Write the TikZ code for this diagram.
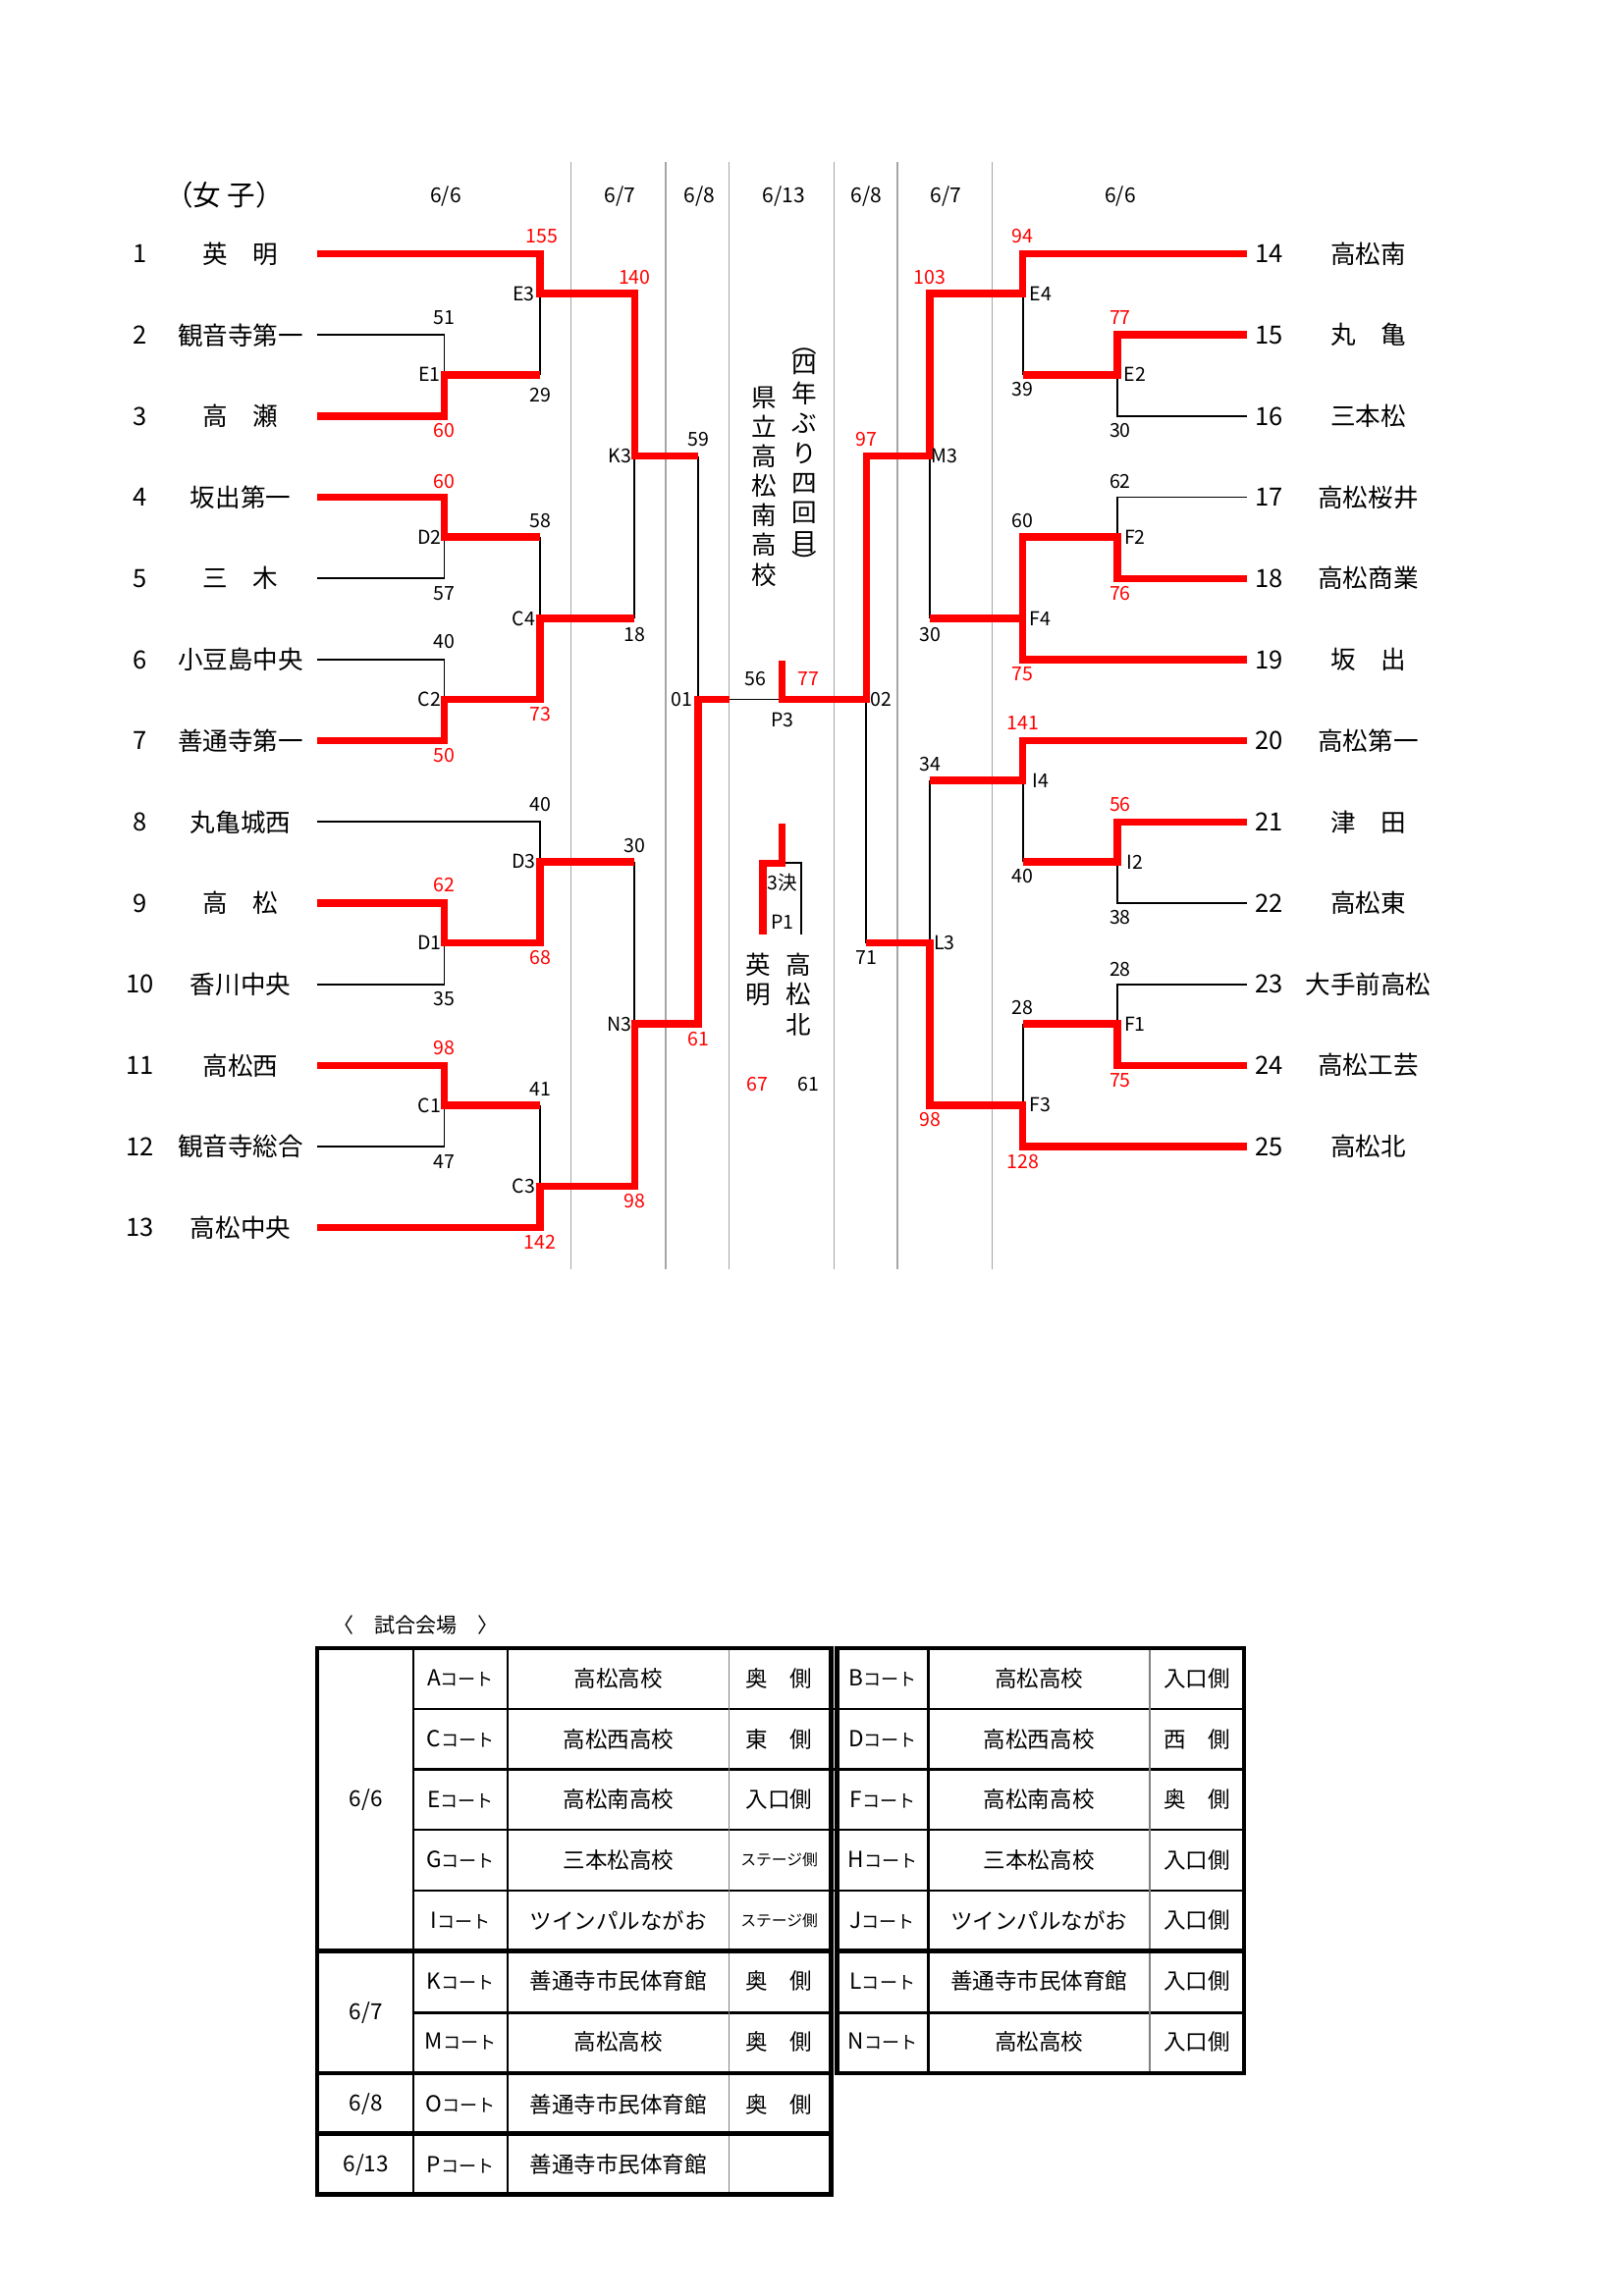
\documentclass[tikz,border=0pt]{standalone}
\usepackage{fontspec}
\setmainfont{Noto Sans CJK JP}
\begin{document}
\begin{tikzpicture}[x=1pt,y=-1pt,
 R/.style={red,line width=5pt,line join=miter},
 B/.style={black,line width=1.2pt},
 G/.style={gray!70,line width=0.8pt},
 sc/.style={font=\fontsize{13}{13}\selectfont,inner sep=0pt},
 rs/.style={sc,red},
 tm/.style={font=\fontsize{17}{17}\selectfont,inner sep=0pt},
 hd/.style={font=\fontsize{14}{14}\selectfont,inner sep=0pt},
 tb/.style={font=\fontsize{15}{15}\selectfont,inner sep=0pt},
 vt/.style={font=\fontsize{17}{20}\selectfont,inner sep=0pt,align=center}]
\useasboundingbox[fill=white] (0,0) rectangle (1100,1556);
% grid
\foreach \x in {387,451,494,565,608,672} \draw[G] (\x,110)--(\x,860);
% headers
\node[font=\fontsize{19}{19}\selectfont] (hh) at (152,132) {（女\ 子）};
\foreach \x/\t [count=\i] in {302/6\slash6,420/6\slash7,474/6\slash8,531/6\slash13,587/6\slash8,641/6\slash7,759/6\slash6}
 \node[hd] (h\i) at (\x,133) {\t};
% teams left
\foreach \n/\t [count=\i] in {1/英\quad 明,2/観音寺第一,3/高\quad 瀬,4/坂出第一,5/三\quad 木,6/小豆島中央,7/善通寺第一,8/丸亀城西,9/高\quad 松,10/香川中央,11/高松西,12/観音寺総合,13/高松中央}{
 \node[tm] (ln\i) at (95,{172+(\i-1)*55}) {\n};
 \node[tm] (lt\i) at (163,{172+(\i-1)*55}) {\t};}
\foreach \n/\t [count=\i] in {14/高松南,15/丸\quad 亀,16/三本松,17/高松桜井,18/高松商業,19/坂\quad 出,20/高松第一,21/津\quad 田,22/高松東,23/大手前高松,24/高松工芸,25/高松北}{
 \node[tm] (rn\i) at (860,{172+(\i-1)*55}) {\n};
 \node[tm] (rt\i) at (927,{172+(\i-1)*55}) {\t};}
% left bracket
\draw[B] (366,199)--(366,254);
\draw[B] (215,227)--(301,227)--(301,254);
\draw[B] (215,392)--(301,392)--(301,364);
\draw[B] (366,364)--(366,419);
\draw[B] (215,447)--(301,447)--(301,474);
\draw[B] (430,309)--(430,419);
\draw[B] (473,309)--(473,474);
\draw[B] (215,557)--(366,557)--(366,584);
\draw[B] (215,667)--(301,667)--(301,639);
\draw[B] (215,777)--(301,777)--(301,749);
\draw[B] (366,749)--(366,804);
\draw[B] (430,584)--(430,694);
\draw[B] (494,474)--(530,474);
\draw[R] (215,172)--(366,172)--(366,199)--(430,199)--(430,309)--(473,309);
\draw[R] (215,282)--(301,282)--(301,254)--(366,254);
\draw[R] (215,337)--(301,337)--(301,364)--(366,364);
\draw[R] (215,502)--(301,502)--(301,474)--(366,474)--(366,419)--(430,419);
\draw[R] (215,612)--(301,612)--(301,639)--(366,639)--(366,584)--(430,584);
\draw[R] (215,722)--(301,722)--(301,749)--(366,749);
\draw[R] (215,832)--(366,832)--(366,804)--(430,804)--(430,694)--(473,694)--(473,474)--(494,474);
% right bracket
\draw[B] (587,474)--(587,639);
\draw[B] (630,309)--(630,419);
\draw[B] (693,199)--(693,254);
\draw[B] (757,254)--(757,282)--(845,282);
\draw[B] (845,337)--(757,337)--(757,364);
\draw[B] (630,529)--(630,639);
\draw[B] (693,529)--(693,584);
\draw[B] (757,584)--(757,612)--(845,612);
\draw[B] (693,694)--(693,749);
\draw[B] (757,694)--(757,667)--(845,667);
\draw[R] (530,448)--(530,474)--(587,474)--(587,309)--(630,309)--(630,199)--(693,199)--(693,172)--(845,172);
\draw[R] (587,639)--(630,639)--(630,749)--(693,749)--(693,777)--(845,777);
\draw[R] (630,419)--(693,419)--(693,364)--(757,364)--(757,392)--(845,392);
\draw[R] (693,419)--(693,447)--(845,447);
\draw[R] (693,254)--(757,254)--(757,227)--(845,227);
\draw[R] (630,529)--(693,529)--(693,502)--(845,502);
\draw[R] (693,584)--(757,584)--(757,557)--(845,557);
\draw[R] (693,694)--(757,694)--(757,722)--(845,722);
% third place
\draw[B] (530,585)--(543,585)--(543,633);
\draw[R] (530,558)--(530,585)--(517,585)--(517,633);
% labels
\foreach \x/\y/\t/\s [count=\i] in {
367/160/155/rs,355/199/E3/sc,301/215/51/sc,291/254/E1/sc,366/268/29/sc,301/292/60/rs,430/188/140/rs,420/309/K3/sc,473/298/59/sc,
301/326/60/rs,291/364/D2/sc,366/353/58/sc,301/402/57/sc,355/419/C4/sc,430/430/18/sc,301/435/40/sc,291/474/C2/sc,366/484/73/rs,301/512/50/rs,
462/474/01/sc,512/460/56/sc,548/460/77/rs,530/488/P3/sc,
366/545/40/sc,355/584/D3/sc,430/573/30/sc,301/600/62/rs,291/639/D1/sc,366/649/68/rs,301/677/35/sc,420/694/N3/sc,473/704/61/rs,
301/710/98/rs,291/749/C1/sc,366/738/41/sc,301/787/47/sc,355/804/C3/sc,430/814/98/rs,366/842/142/rs,
693/160/94/rs,705/199/E4/sc,630/188/103/rs,759/215/77/rs,769/254/E2/sc,693/264/39/sc,759/292/30/sc,587/298/97/rs,640/309/M3/sc,
759/326/62/sc,693/353/60/sc,769/364/F2/sc,759/402/76/rs,630/430/30/sc,705/419/F4/sc,693/457/75/rs,597/474/02/sc,
693/490/141/rs,630/518/34/sc,705/529/I4/sc,759/545/56/rs,769/584/I2/sc,693/594/40/sc,759/622/38/sc,587/649/71/sc,640/639/L3/sc,
759/657/28/sc,693/683/28/sc,769/694/F1/sc,759/732/75/rs,705/749/F3/sc,630/759/98/rs,693/787/128/rs,
530/598/3決/sc,530/625/P1/sc,513/735/67/rs,548/735/61/sc}
 \node[\s] (s\i) at (\x,\y) {\t};
\node[vt,anchor=north] (v1) at (518,262) {県\\立\\高\\松\\南\\高\\校};
\node[vt,anchor=north] (v2) at (545,236) {︵\\[-6pt]四\\年\\ぶ\\り\\四\\回\\目\\[-6pt]︶};
\node[vt,anchor=north] (v3) at (514,646) {英\\明};
\node[vt,anchor=north] (v4) at (541,646) {高\\松\\北};
% table
\node[font=\fontsize{14}{14}\selectfont,anchor=west] (tt) at (222,1101) {〈\quad 試合会場\quad 〉};
\begin{scope}[line width=1.5pt]
\foreach \y in {1158,1199,1240,1281} \draw (280,\y)--(843,\y);
\draw (280,1322)--(563,1322);
\draw (280,1364)--(563,1364); \draw (567,1364)--(843,1364);
\foreach \x in {280,344} \draw (\x,1117)--(\x,1487);
\draw (629,1117)--(629,1405);
\end{scope}
\draw[gray,line width=0.8pt] (494,1117)--(494,1487);
\draw[gray,line width=0.8pt] (779,1117)--(779,1405);
\begin{scope}[line width=3pt]
\draw (215,1117) rectangle (563,1487);
\draw (567,1117) rectangle (843,1405);
\draw (215,1322)--(563,1322); \draw (567,1322)--(843,1322);
\draw (215,1405)--(563,1405);
\draw (215,1446)--(563,1446);
\end{scope}
\node[tb] (d1) at (248,1220) {6/6};
\node[tb] (d2) at (248,1364) {6/7};
\node[tb] (d3) at (248,1426) {6/8};
\node[tb] (d4) at (248,1467) {6/13};
\foreach \c/\v/\s/\cc/\vv/\ss [count=\i] in {
A/高松高校/奥\quad 側/B/高松高校/入口側,
C/高松西高校/東\quad 側/D/高松西高校/西\quad 側,
E/高松南高校/入口側/F/高松南高校/奥\quad 側,
G/三本松高校/{\fontsize{10.5}{10.5}\selectfont ステージ側}/H/三本松高校/入口側,
I/ツインパルながお/{\fontsize{10.5}{10.5}\selectfont ステージ側}/J/ツインパルながお/入口側,
K/善通寺市民体育館/奥\quad 側/L/善通寺市民体育館/入口側,
M/高松高校/奥\quad 側/N/高松高校/入口側}{
 \node[tb] (ca\i) at (312,{1137.5+(\i-1)*41}) {\c{\fontsize{12}{12}\selectfont コート}};
 \node[tb] (va\i) at (419,{1137.5+(\i-1)*41}) {\v};
 \node[tb] (sa\i) at (528,{1137.5+(\i-1)*41}) {\s};
 \node[tb] (cb\i) at (598,{1137.5+(\i-1)*41}) {\cc{\fontsize{12}{12}\selectfont コート}};
 \node[tb] (vb\i) at (704,{1137.5+(\i-1)*41}) {\vv};
 \node[tb] (sb\i) at (811,{1137.5+(\i-1)*41}) {\ss};}
\node[tb] (co) at (312,1426) {O{\fontsize{12}{12}\selectfont コート}};
\node[tb] (vo) at (419,1426) {善通寺市民体育館};
\node[tb] (so) at (528,1426) {奥\quad 側};
\node[tb] (cp) at (312,1467) {P{\fontsize{12}{12}\selectfont コート}};
\node[tb] (vp) at (419,1467) {善通寺市民体育館};
\end{tikzpicture}
\end{document}
